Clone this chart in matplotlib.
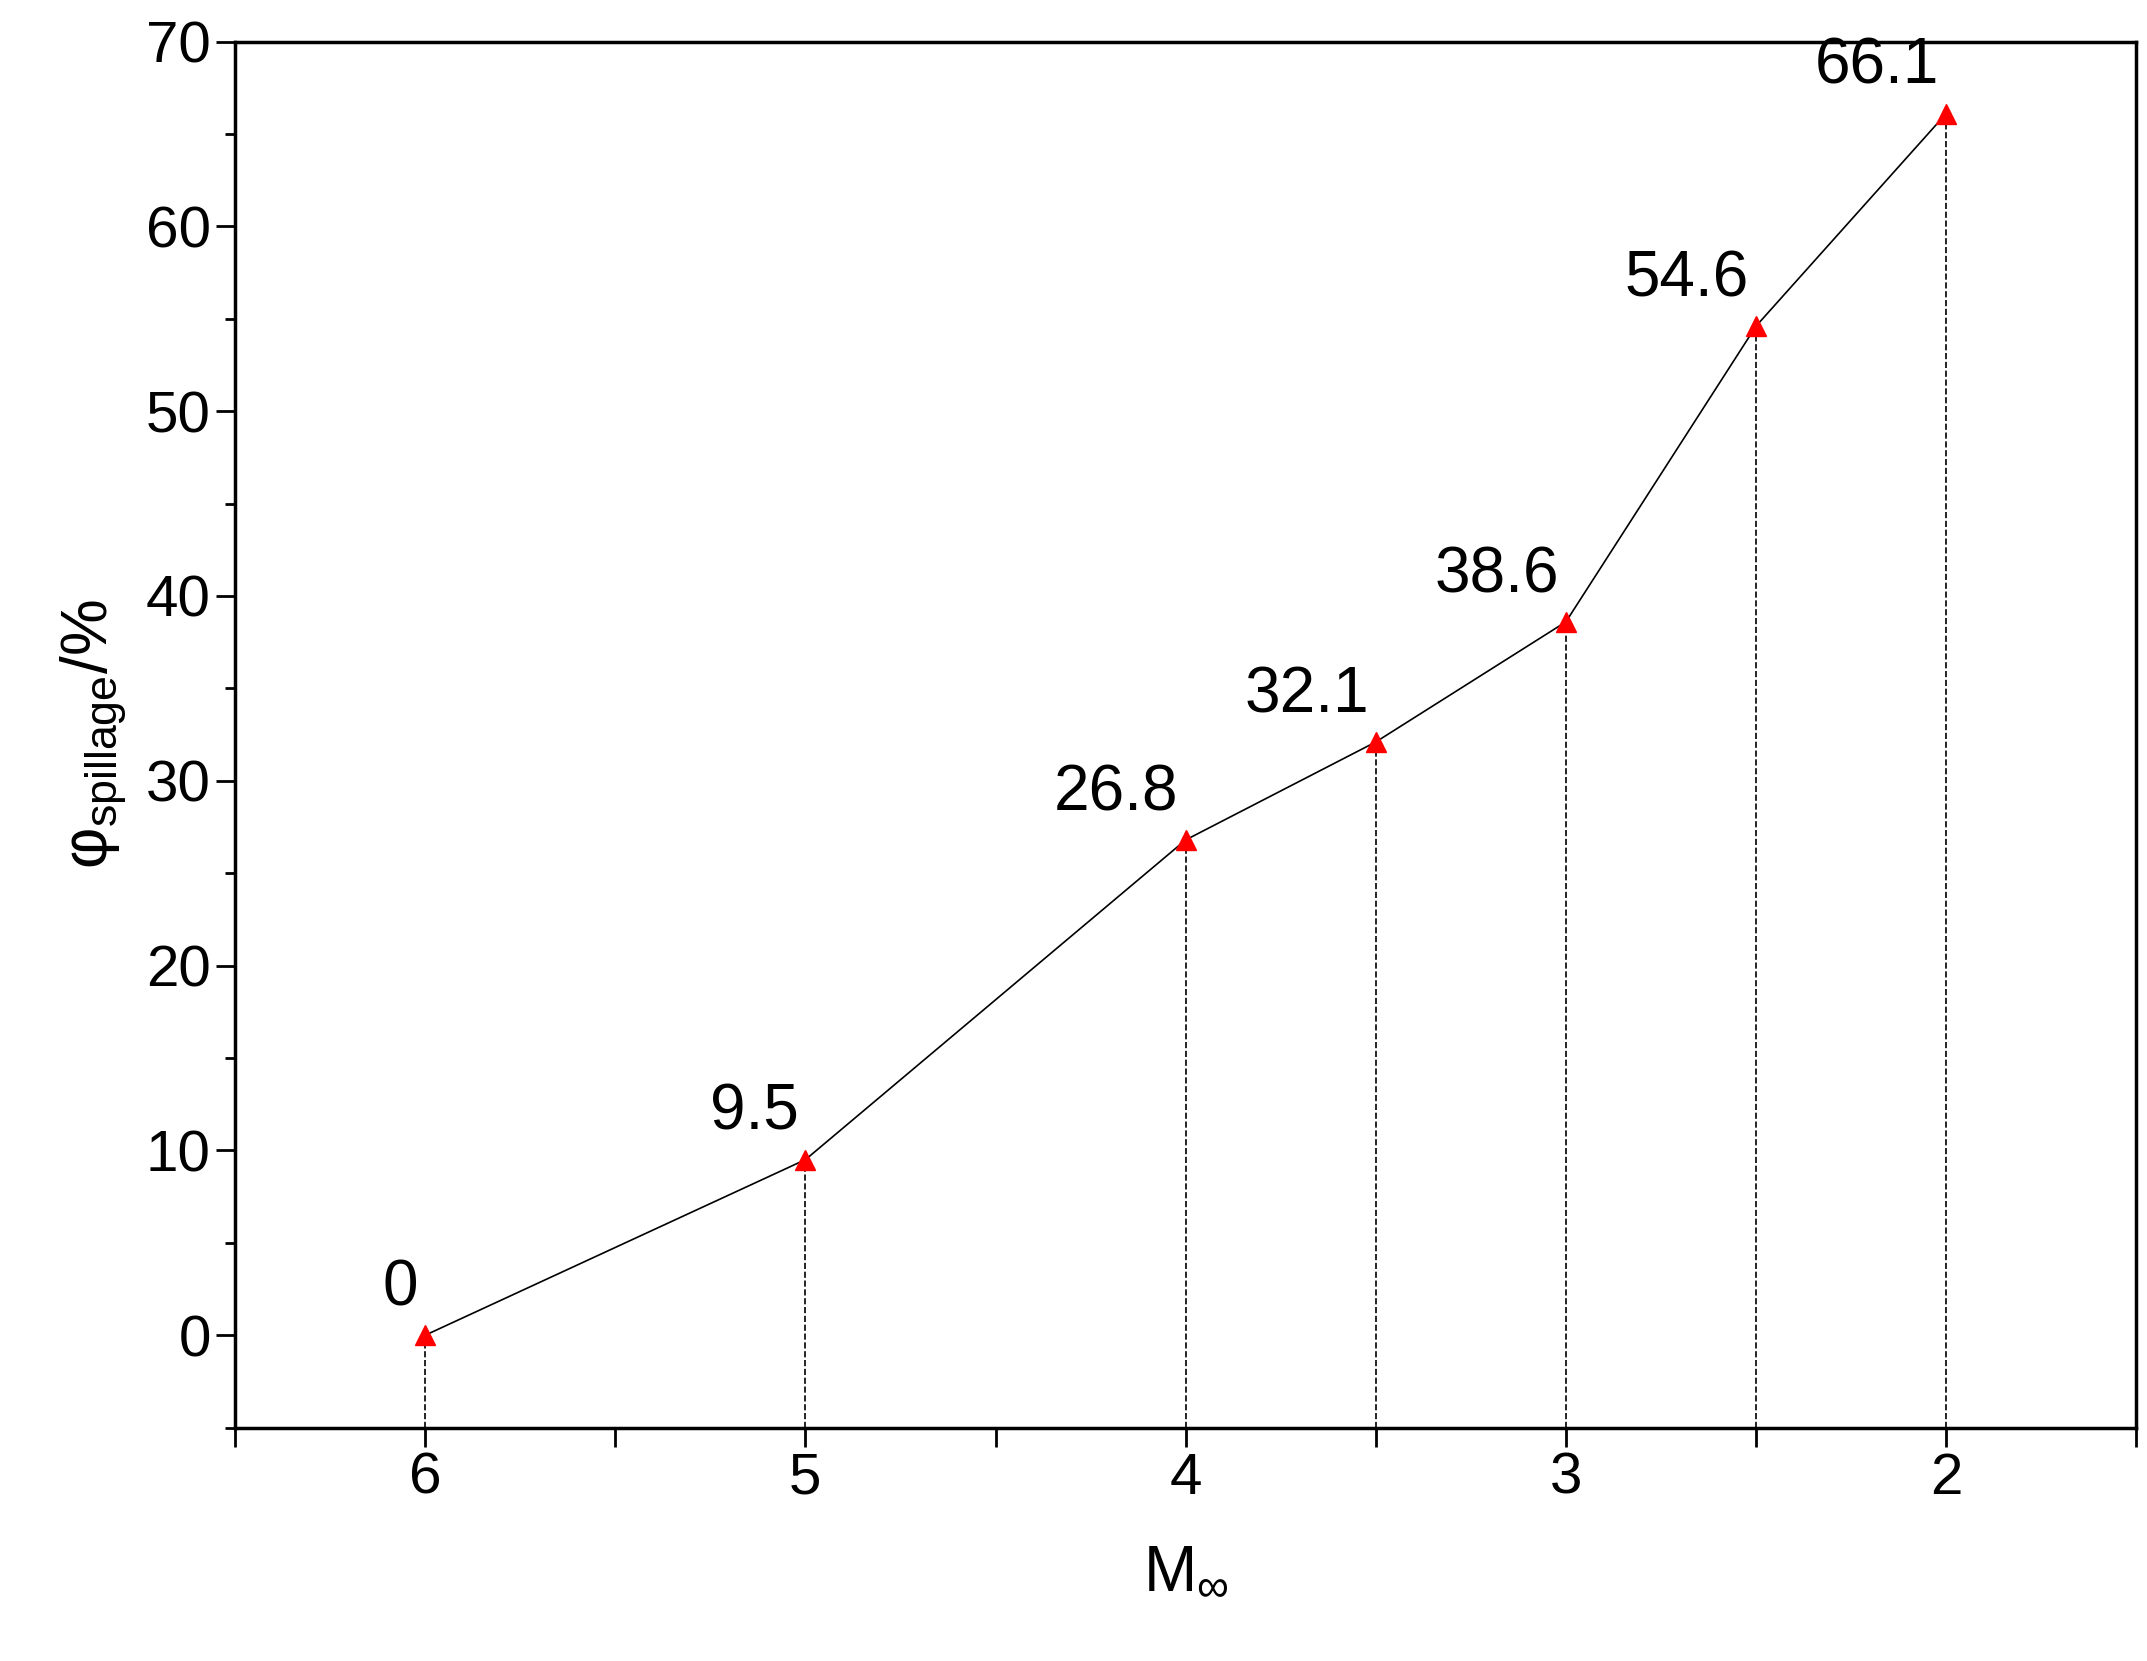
import matplotlib
matplotlib.use("Agg")
import matplotlib.pyplot as plt
from matplotlib.ticker import MultipleLocator

plt.rcParams["font.family"] = ["Liberation Sans", "DejaVu Sans"]
plt.rcParams["mathtext.fontset"] = "custom"
plt.rcParams["mathtext.rm"] = "Liberation Sans"

mach = [6, 5, 4, 3.5, 3, 2.5, 2]
spillage = [0, 9.5, 26.8, 32.1, 38.6, 54.6, 66.1]
labels = ["0", "9.5", "26.8", "32.1", "38.6", "54.6", "66.1"]

fig = plt.figure(figsize=(21.47, 16.61), dpi=100)
ax = fig.add_axes([0.1095, 0.1405, 0.8855, 0.8345])

ax.plot(mach, spillage, color="black", lw=1.2, zorder=2)
ax.plot(mach, spillage, ls="none", marker="^", color="red", ms=14, zorder=3)
for x, y in zip(mach, spillage):
    ax.plot([x, x], [-5, y], ls="--", color="black", lw=1.2, zorder=1)
for x, y, t in zip(mach, spillage, labels):
    ax.annotate(t, (x, y), xytext=(-5, 12), textcoords="offset points",
                ha="right", va="bottom", fontsize=46)

ax.set_xlim(6.5, 1.5)
ax.set_ylim(-5, 70)
ax.set_xticks([6, 5, 4, 3, 2])
ax.xaxis.set_minor_locator(MultipleLocator(0.5))
ax.yaxis.set_major_locator(MultipleLocator(10))
ax.yaxis.set_minor_locator(MultipleLocator(5))
ax.tick_params(axis="both", which="major", labelsize=42, length=14, width=2, direction="out")
ax.tick_params(axis="both", which="minor", length=7, width=2, direction="out")
ax.tick_params(axis="x", which="minor", length=14)
for s in ax.spines.values():
    s.set_linewidth(2.5)

ax.set_xlabel(r"M$_{\infty}$", fontsize=46, labelpad=25)
ax.set_ylabel(r"$\mathrm{\varphi}_{\mathrm{spillage}}$/%", fontsize=46, labelpad=12)

fig.savefig("out.png", dpi=100, facecolor="white")
